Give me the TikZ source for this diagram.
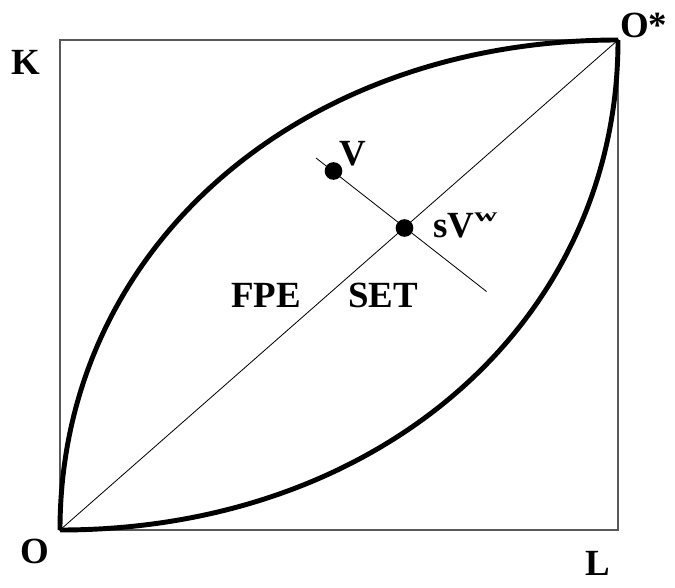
\documentclass[tikz,border=0pt]{standalone}
\usepackage{fontspec}
\setmainfont{Liberation Serif}
\usepackage{graphicx}
\begin{document}
\begin{tikzpicture}[x=0.03cm,y=-0.03cm,
  boxline/.style={draw=black!65, line width=1.1pt},
  diagline/.style={draw=black, line width=0.7pt},
  curveline/.style={draw=black, line width=4.2pt},
  dotnode/.style={circle, fill=black, inner sep=0pt, minimum size=0.53cm},
  lab/.style={font=\fontsize{31.5}{36}\selectfont\bfseries, inner sep=0pt, anchor=base west}]
\useasboundingbox (0,0) rectangle (675,587);
\coordinate (O) at (60,530);
\coordinate (Os) at (618,40);
\coordinate (pa) at (316,158);
\coordinate (pb) at (486.5,291.5);
\draw[boxline] (O) rectangle (Os);
\draw[diagline] (O) -- (Os);
\draw[diagline] (pa) -- (pb);
\draw[curveline] (O) .. controls (60,249) and (298,40) .. (Os);
\draw[curveline] (O) .. controls (380,530) and (618,321) .. (Os);
\node[dotnode] (V) at (333.5,171) {};
\node[dotnode] (S) at (404.5,228) {};
\node[lab] (lK) at (11,74) {K};
\node[lab] (lOs) at (620,37) {O*};
\node[lab] (lO) at (20,563) {O};
\node[lab] (lL) at (585,575) {L};
\node[lab] (lV) at (339,165) {V};
\node[lab] (lS) at (433,237) {sV\raisebox{13pt}{\scalebox{1.7}[1]{\fontsize{16}{16}\selectfont w}}};
\node[lab] (lF) at (231,307) {FPE};
\node[lab] (lSET) at (348,307) {SET};
\end{tikzpicture}
\end{document}
